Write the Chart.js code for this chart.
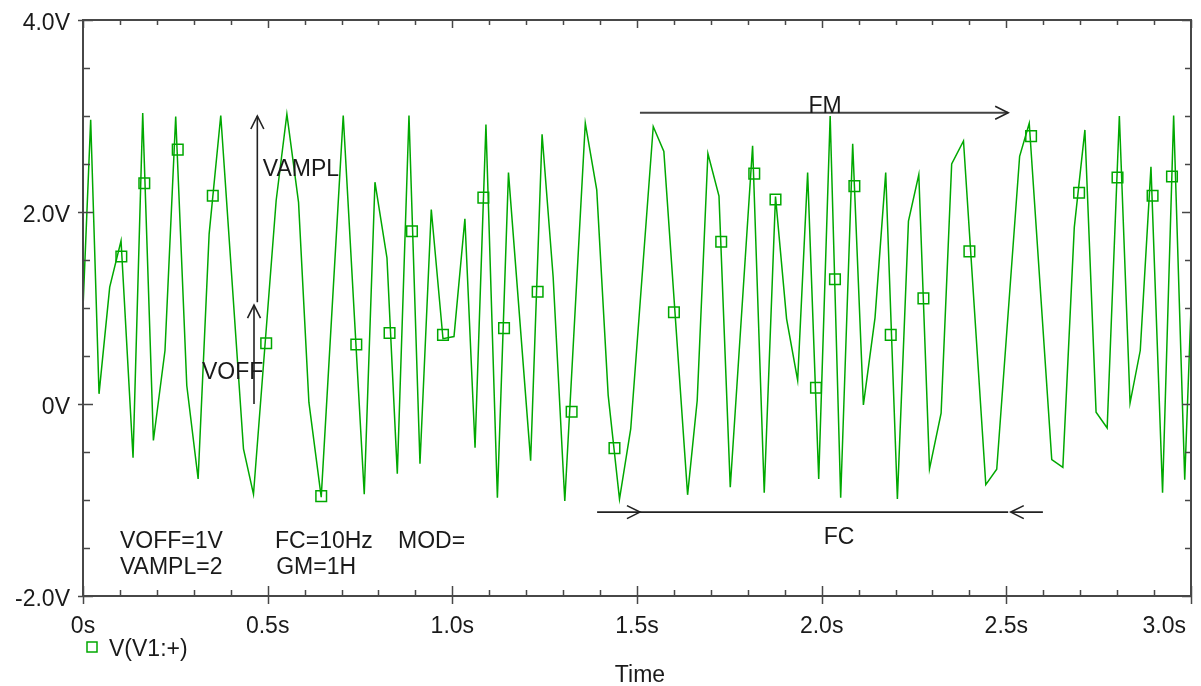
<!DOCTYPE html>
<html>
<head>
<meta charset="utf-8">
<script src="https://cdn.jsdelivr.net/npm/chart.js@4.4.1/dist/chart.umd.min.js"></script>
<style>
html,body{margin:0;padding:0;background:#fff;}
#wrap{width:1201px;height:686px;}
</style>
</head>
<body>
<div id="wrap"><canvas id="c" width="1201" height="686"></canvas></div>
<script>
// ---- data ----
const timeS = [0, 0.0208, 0.0434, 0.0723, 0.103, 0.1355, 0.1617, 0.1906, 0.222, 0.251, 0.281, 0.3117, 0.3415, 0.373,
  0.4345, 0.4616, 0.523, 0.552, 0.5836, 0.6116, 0.645, 0.7046, 0.7615, 0.7905, 0.823, 0.851, 0.8826, 0.9124, 0.943,
  0.9747, 1.0045, 1.034, 1.0615, 1.091, 1.122, 1.152, 1.212, 1.243, 1.273, 1.3045, 1.360, 1.391, 1.422, 1.4526, 1.483,
  1.544, 1.5727, 1.637, 1.663, 1.692, 1.722, 1.7525, 1.813, 1.8445, 1.875, 1.905, 1.935, 1.962, 1.992, 2.023, 2.0515,
  2.084, 2.113, 2.1445, 2.1734, 2.205, 2.235, 2.263, 2.292, 2.3234, 2.352, 2.384, 2.4444, 2.474, 2.536, 2.562, 2.623,
  2.653, 2.684, 2.7127, 2.743, 2.773, 2.806, 2.835, 2.8626, 2.8916, 2.923, 2.953, 2.983, 3.0];
const voltV = [1.0, 2.96, 0.106, 1.217, 1.70, -0.56, 3.03, -0.38, 0.557, 2.995, 0.193, -0.78, 1.77, 3.005,
  -0.467, -0.94, 2.12, 3.02, 2.10, 0.019, -0.97, 3.005, -0.94, 2.31, 1.523, -0.727, 3.005, -0.623, 2.026,
  0.68, 0.703, 1.93, -0.456, 2.91, -0.977, 2.41, -0.59, 2.81, 1.32, -1.01, 2.925, 2.23, 0.09, -0.99, -0.26,
  2.89, 2.63, -0.946, 0.036, 2.61, 2.165, -0.867, 2.69, -0.925, 2.16, 0.887, 0.245, 2.41, -0.78, 3.0, -0.977,
  2.71, -0.01, 0.90, 2.41, -0.99, 1.905, 2.39, -0.675, -0.096, 2.50, 2.74, -0.84, -0.68, 2.58, 2.925, -0.58,
  -0.66, 1.84, 2.855, -0.085, -0.25, 3.0, 0.01, 0.557, 2.47, -0.925, 3.005, -0.79, 1.0];
const markerT = [0.1038, 0.166, 0.2565, 0.3514, 0.496, 0.645, 0.740, 0.830, 0.8907, 0.9747, 1.084, 1.14, 1.231,
  1.323, 1.439, 1.600, 1.728, 1.8175, 1.875, 1.9846, 2.036, 2.0886, 2.187, 2.2755, 2.400, 2.567, 2.697, 2.801,
  2.896, 2.9485];
const markerV = [1.536, 2.30, 2.65, 2.17, 0.633, -0.96, 0.62, 0.74, 1.80, 0.72, 2.15, 0.79, 1.17,
  -0.08, -0.46, 0.956, 1.69, 2.40, 2.13, 0.17, 1.30, 2.27, 0.72, 1.10, 1.59, 2.79, 2.20, 2.36,
  2.17, 2.37];
const xTickValues = [0, 0.5, 1.0, 1.5, 2.0, 2.5, 3.0];
const xTickLabels = ['0s', '0.5s', '1.0s', '1.5s', '2.0s', '2.5s', '3.0s'];
const yTickValues = [-2, 0, 2, 4];
const yTickLabels = ['-2.0V', '0V', '2.0V', '4.0V'];
const seriesName = 'V(V1:+)';
const xAxisTitle = 'Time';
const paramTexts = [
  {t: 0.10, v: -1.50, s: 'VOFF=1V'},
  {t: 0.10, v: -1.77, s: 'VAMPL=2'},
  {t: 0.52, v: -1.50, s: 'FC=10Hz'},
  {t: 0.523, v: -1.77, s: 'GM=1H'},
  {t: 0.853, v: -1.50, s: 'MOD='}
];

const GREEN = '#00a800';
const AXIS = '#474747';
const TEXT = '#1a1a1a';
const FONT = '23px "Liberation Sans", Arial, sans-serif';

const lineData = timeS.map((t, i) => ({x: t, y: voltV[i]}));
const markData = markerT.map((t, i) => ({x: t, y: markerV[i]}));

function arrowHead(ctx, x, y, dx, dy) {
  // open arrow head at (x,y) pointing in direction (dx,dy)
  const len = 13, hw = 6.5;
  const bx = x - dx * len, by = y - dy * len;
  const px = -dy, py = dx;
  ctx.beginPath();
  ctx.moveTo(bx + px * hw, by + py * hw);
  ctx.lineTo(x, y);
  ctx.lineTo(bx - px * hw, by - py * hw);
  ctx.stroke();
}

const decor = {
  id: 'decor',
  afterDraw(chart) {
    const ctx = chart.ctx;
    const xs = chart.scales.x, ys = chart.scales.y;
    const a = chart.chartArea;
    const L = a.left, R = a.right, T = a.top, B = a.bottom;
    ctx.save();
    // frame
    ctx.strokeStyle = AXIS;
    ctx.lineWidth = 2;
    ctx.strokeRect(L, T, R - L, B - T);
    // x ticks (0.1 s minor, 0.5 s major)
    ctx.lineWidth = 1.5;
    for (let k = 0; k <= 30; k++) {
      const x = Math.round(xs.getPixelForValue(k / 10)) + 0.5;
      const major = k % 5 === 0;
      ctx.beginPath();
      ctx.moveTo(x, B + (major ? 8 : 0)); ctx.lineTo(x, B - (major ? 10 : 6));
      ctx.moveTo(x, T); ctx.lineTo(x, T + (major ? 8 : 5));
      ctx.stroke();
    }
    // y ticks (0.5 V minor, 2 V major)
    for (let k = -4; k <= 8; k++) {
      const v = k / 2;
      const y = Math.round(ys.getPixelForValue(v)) + 0.5;
      const major = k % 4 === 0;
      ctx.beginPath();
      ctx.moveTo(L - (major ? 5 : 0), y); ctx.lineTo(L + (major ? 10 : 7), y);
      ctx.moveTo(R, y); ctx.lineTo(R - (major ? 9 : 6), y);
      ctx.stroke();
    }
    // tick labels
    ctx.fillStyle = TEXT;
    ctx.font = FONT;
    ctx.textBaseline = 'alphabetic';
    xTickValues.forEach((v, i) => {
      const x = xs.getPixelForValue(v);
      if (i === xTickValues.length - 1) { ctx.textAlign = 'right'; ctx.fillText(xTickLabels[i], x - 5, B + 37); }
      else { ctx.textAlign = 'center'; ctx.fillText(xTickLabels[i], x, B + 37); }
    });
    ctx.textAlign = 'right';
    yTickValues.forEach((v, i) => {
      const y = ys.getPixelForValue(v);
      ctx.fillText(yTickLabels[i], L - 13, y + 10);
    });
    // axis title
    ctx.textAlign = 'center';
    ctx.fillText(xAxisTitle, 640, B + 86);
    // legend
    ctx.strokeStyle = GREEN;
    ctx.lineWidth = 1.5;
    ctx.strokeRect(87, 642, 10, 10);
    ctx.textAlign = 'left';
    ctx.fillText(seriesName, 109, 656);

    // annotations in data units
    const X = t => xs.getPixelForValue(t), Y = v => ys.getPixelForValue(v);
    ctx.strokeStyle = '#222';
    ctx.lineWidth = 1.6;
    // VAMPL arrow
    ctx.beginPath(); ctx.moveTo(X(0.472), Y(1.06)); ctx.lineTo(X(0.472), Y(3.0)); ctx.stroke();
    arrowHead(ctx, X(0.472), Y(3.0), 0, -1);
    // VOFF arrow
    ctx.beginPath(); ctx.moveTo(X(0.463), Y(0)); ctx.lineTo(X(0.463), Y(1.03)); ctx.stroke();
    arrowHead(ctx, X(0.463), Y(1.03), 0, -1);
    // FM arrow
    ctx.strokeStyle = '#444';
    ctx.lineWidth = 2;
    ctx.beginPath(); ctx.moveTo(X(1.508), Y(3.033)); ctx.lineTo(X(2.505), Y(3.033)); ctx.stroke();
    ctx.lineWidth = 1.6; ctx.strokeStyle = '#222';
    arrowHead(ctx, X(2.505), Y(3.033), 1, 0);
    // FC arrows
    ctx.beginPath(); ctx.moveTo(X(1.392), Y(-1.126)); ctx.lineTo(X(1.508), Y(-1.126)); ctx.stroke();
    arrowHead(ctx, X(1.508), Y(-1.126), 1, 0);
    ctx.beginPath(); ctx.moveTo(X(1.508), Y(-1.126)); ctx.lineTo(X(2.505), Y(-1.126)); ctx.stroke();
    ctx.beginPath(); ctx.moveTo(X(2.599), Y(-1.126)); ctx.lineTo(X(2.512), Y(-1.126)); ctx.stroke();
    arrowHead(ctx, X(2.512), Y(-1.126), -1, 0);
    // texts
    ctx.fillStyle = TEXT;
    ctx.textAlign = 'left';
    ctx.fillText('VAMPL', X(0.487), Y(2.37));
    ctx.fillText('VOFF', X(0.322), Y(0.257));
    ctx.textAlign = 'center';
    ctx.fillText('FM', X(2.009), Y(3.028));
    ctx.fillText('FC', X(2.047), Y(-1.459));
    ctx.textAlign = 'left';
    paramTexts.forEach(p => ctx.fillText(p.s, X(p.t), Y(p.v)));
    ctx.restore();
  }
};

new Chart(document.getElementById('c'), {
  type: 'scatter',
  data: {
    datasets: [
      {label: seriesName, data: lineData, showLine: true, borderColor: GREEN, borderWidth: 1.5,
       pointRadius: 0, tension: 0, fill: false},
      {label: seriesName + ' markers', data: markData, showLine: false, pointStyle: 'rect',
       pointRadius: 7.5, pointBorderColor: GREEN, pointBackgroundColor: 'rgba(0,0,0,0)', pointBorderWidth: 1.5}
    ]
  },
  options: {
    responsive: false,
    animation: false,
    events: [],
    layout: {padding: {left: 83, right: 10, top: 20, bottom: 90}},
    plugins: {legend: {display: false}, tooltip: {enabled: false}},
    scales: {
      x: {type: 'linear', min: 0, max: 3, display: false},
      y: {type: 'linear', min: -2, max: 4, display: false}
    }
  },
  plugins: [decor]
});
</script>
</body>
</html>
